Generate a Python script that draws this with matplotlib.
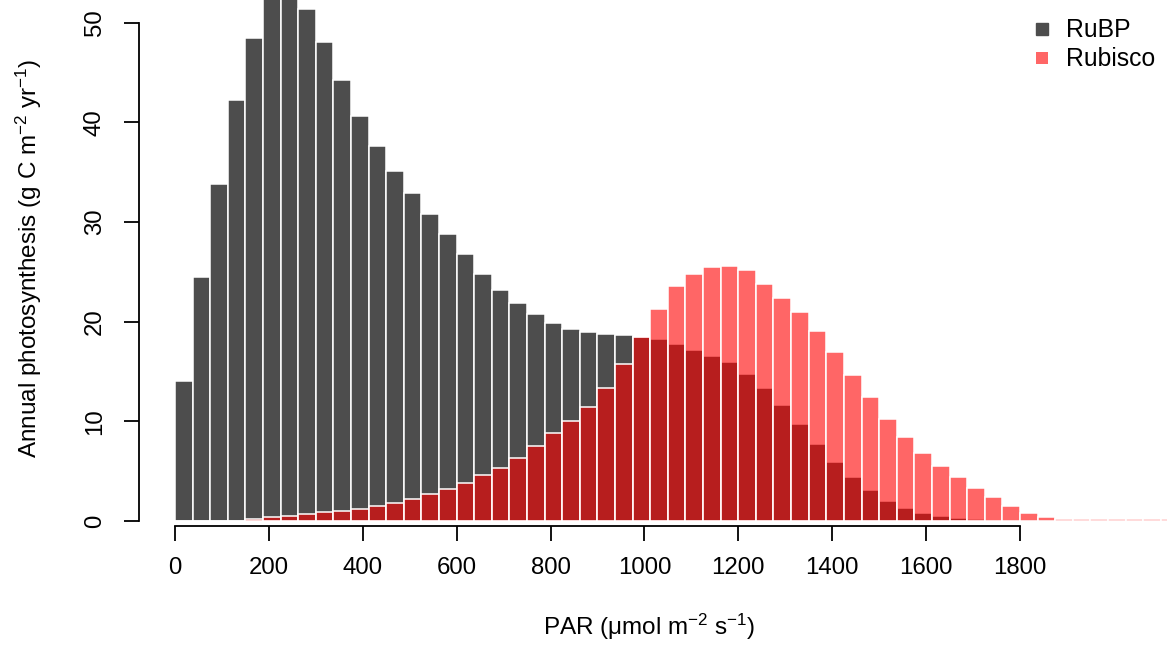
import numpy as np
import matplotlib
matplotlib.use("Agg")
import matplotlib.pyplot as plt
from matplotlib.lines import Line2D

plt.rcParams['font.family'] = ['Liberation Sans', 'DejaVu Sans']
plt.rcParams['mathtext.fontset'] = 'custom'
plt.rcParams['mathtext.rm'] = 'Liberation Sans'
plt.rcParams['mathtext.it'] = 'Liberation Sans:italic'

# histogram bins of PAR (umol m-2 s-1)
bin_width = 37.5
# annual photosynthesis per PAR bin (g C m-2 yr-1)
rubp = [14.0, 24.5, 33.8, 42.2, 48.4, 52.8, 53.1, 51.4, 48.0, 44.2,
        40.6, 37.6, 35.1, 32.9, 30.8, 28.8, 26.8, 24.8, 23.2, 21.9,
        20.8, 19.9, 19.3, 19.0, 18.8, 18.7, 18.5, 18.3, 17.8, 17.2,
        16.6, 15.9, 14.7, 13.3, 11.6, 9.7, 7.7, 5.9, 4.4, 3.1,
        2.0, 1.3, 0.76, 0.52, 0.31, 0.2, 0.14, 0.07, 0.03, 0.01,
        0, 0, 0, 0, 0, 0, 0]
rubisco = [0, 0, 0, 0.05, 0.17, 0.37, 0.5, 0.7, 0.87, 1.03,
           1.23, 1.53, 1.8, 2.2, 2.7, 3.2, 3.8, 4.57, 5.33, 6.3,
           7.53, 8.8, 10.07, 11.47, 13.3, 15.7, 18.5, 21.3, 23.57, 24.8,
           25.47, 25.57, 25.16, 23.77, 22.36, 20.94, 19.07, 16.93, 14.69, 12.4,
           10.26, 8.4, 6.81, 5.56, 4.39, 3.35, 2.38, 1.55, 0.83, 0.4,
           0.22, 0.2, 0.19, 0.18, 0.18, 0.17, 0.17]
x_ticks = [0, 200, 400, 600, 800, 1000, 1200, 1400, 1600, 1800]
y_ticks = [0, 10, 20, 30, 40, 50]

grey = '#4D4D4D'
red = (1, 0, 0, 0.6)

edges = np.arange(len(rubp)) * bin_width

fig = plt.figure(figsize=(11.67, 6.46), dpi=100)
ax = fig.add_axes([138.6 / 1167, 120 / 646, 1 - 138.6 / 1167, 526 / 646])

ax.bar(edges, rubp, width=bin_width, align='edge', color=grey,
       edgecolor='white', linewidth=1.1)
ax.bar(edges, rubisco, width=bin_width, align='edge', color=red,
       edgecolor='white', linewidth=1.1)

ax.set_xlim(-77.5, 2113.3)
ax.set_ylim(-0.5, 52.26)

for s in ['top', 'right']:
    ax.spines[s].set_visible(False)
ax.spines['bottom'].set_bounds(0, 1800)
ax.spines['left'].set_bounds(0, 50)
for s in ['bottom', 'left']:
    ax.spines[s].set_linewidth(1.3)

ax.set_xticks(x_ticks)
ax.set_yticks(y_ticks)
ax.tick_params(axis='both', direction='out', length=10.5, width=1.3,
               labelsize=17.3, colors='black')
ax.tick_params(axis='x', pad=12)
ax.tick_params(axis='y', pad=13)
for lab in ax.get_yticklabels():
    lab.set_rotation(90)
    lab.set_va('center')

ax.set_xlabel('PAR (\u03bcmol m$^{-2}$ s$^{-1}$)', fontsize=17.5, va='center')
ax.xaxis.set_label_coords(0.497, -101 / 526)
ax.set_ylabel('Annual photosynthesis (g C m$^{-2}$ yr$^{-1}$)', fontsize=17.5,
              va='center')
ax.yaxis.set_label_coords(-110 / 1028.4, 0.508)

handles = [Line2D([], [], marker='s', ls='', color=grey, markersize=8.6),
           Line2D([], [], marker='s', ls='', color=red, markeredgewidth=0,
                  markersize=9.2)]
ax.legend(handles, ['RuBP', 'Rubisco'], loc='upper left',
          bbox_to_anchor=(1020 / 1167, 1 - 6 / 646),
          bbox_transform=fig.transFigure, frameon=False, borderpad=0,
          handlelength=0.8, handletextpad=0.55, labelspacing=0.2,
          fontsize=17.8)

fig.savefig('out.png', dpi=100)
